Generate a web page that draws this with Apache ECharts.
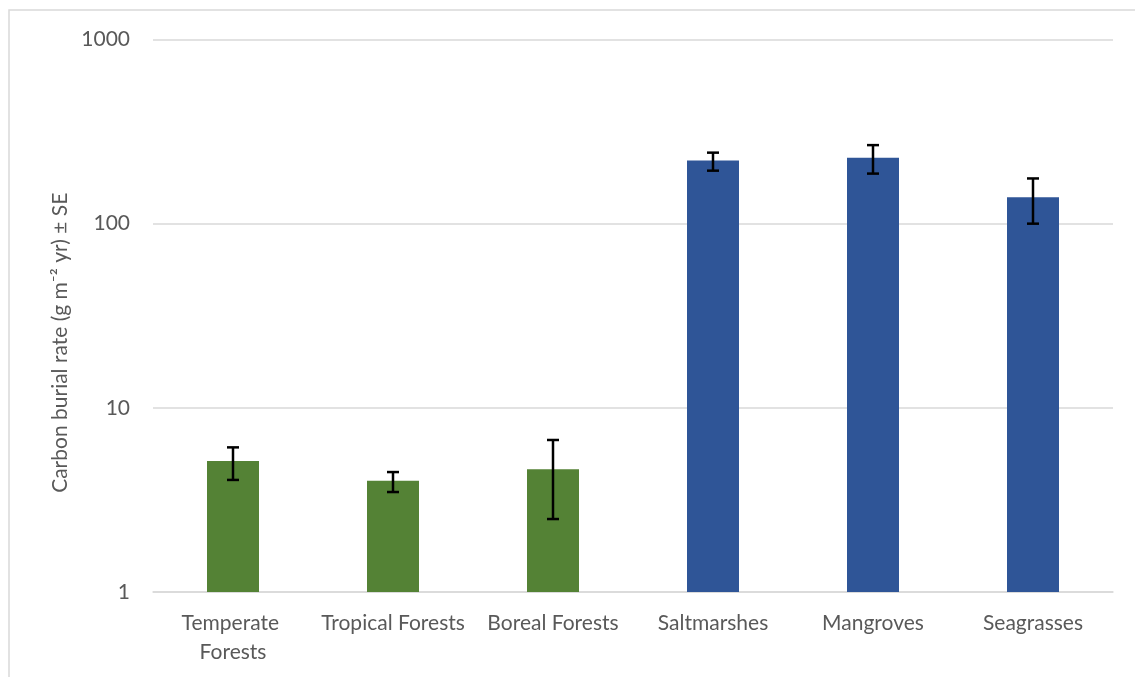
<!DOCTYPE html>
<html>
<head>
<meta charset="utf-8">
<script src="https://cdn.jsdelivr.net/npm/echarts@6/dist/echarts.min.js"></script>
<style>
  html, body { margin: 0; padding: 0; background: #fff; }
  #chart { width: 1135px; height: 677px; }
</style>
</head>
<body>
<div id="chart"></div>
<script>
// habitat types
var categories = ['Temperate Forests', 'Tropical Forests', 'Boreal Forests', 'Saltmarshes', 'Mangroves', 'Seagrasses'];
// mean burial rate, g C m-2 yr-1
var burialRate = [5.14, 4.02, 4.64, 220, 228, 139];
// upper / lower ends of the +/- SE bars
var errHigh = [6.1, 4.48, 6.69, 243, 267, 176];
var errLow = [4.06, 3.49, 2.49, 194, 187, 100];
var yTicks = [1, 10, 100, 1000];

var green = '#548235';
var blue = '#2f5597';

var myChart = echarts.init(document.getElementById('chart'));

var barData = burialRate.map(function (v, i) {
    return { value: v, itemStyle: { color: i < 3 ? green : blue } };
});
var errData = categories.map(function (c, i) {
    return [i, errLow[i], errHigh[i]];
});

var option = {
    animation: false,
    textStyle: { fontFamily: 'Lato, "Open Sans", sans-serif' },
    graphic: [{
        type: 'rect',
        shape: { x: 9, y: 10, width: 1200, height: 800 },
        style: { fill: 'none', stroke: '#d9d9d9', lineWidth: 1.5 },
        silent: true
    }],
    grid: { left: 153, right: 22, top: 39.5, bottom: 85 },
    xAxis: {
        type: 'category',
        data: categories,
        axisLine: { lineStyle: { color: '#d9d9d9', width: 1.5 } },
        axisTick: { show: false },
        axisLabel: {
            interval: 0,
            color: '#595959',
            fontSize: 21,
            margin: 17,
            lineHeight: 29,
            width: 158,
            overflow: 'break'
        }
    },
    yAxis: {
        type: 'log',
        logBase: 10,
        min: yTicks[0],
        max: yTicks[yTicks.length - 1],
        axisLine: { show: false },
        axisTick: { show: false },
        splitLine: { lineStyle: { color: '#d9d9d9', width: 1.5 } },
        axisLabel: {
            color: '#595959',
            fontSize: 21,
            margin: 23,
            formatter: function (v) { return String(Math.round(v)); }
        },
        name: 'Carbon burial rate (g m\u207b\u00b2 yr) \u00b1 SE',
        nameLocation: 'middle',
        nameRotate: 90,
        nameGap: 80,
        nameTextStyle: { color: '#595959', fontSize: 21, padding: [0, 54, 0, 0] }
    },
    series: [
        {
            type: 'bar',
            data: barData,
            barWidth: 52
        },
        {
            type: 'custom',
            data: errData,
            z: 10,
            renderItem: function (params, api) {
                var x = api.value(0);
                var lo = api.coord([x, api.value(1)]);
                var hi = api.coord([x, api.value(2)]);
                var cap = 6;
                var style = { stroke: '#000', lineWidth: 2.5, fill: null };
                return {
                    type: 'group',
                    children: [
                        { type: 'line', shape: { x1: hi[0], y1: hi[1], x2: lo[0], y2: lo[1] }, style: style },
                        { type: 'line', shape: { x1: hi[0] - cap, y1: hi[1], x2: hi[0] + cap, y2: hi[1] }, style: style },
                        { type: 'line', shape: { x1: lo[0] - cap, y1: lo[1], x2: lo[0] + cap, y2: lo[1] }, style: style }
                    ]
                };
            }
        }
    ]
};

myChart.setOption(option);
</script>
</body>
</html>
